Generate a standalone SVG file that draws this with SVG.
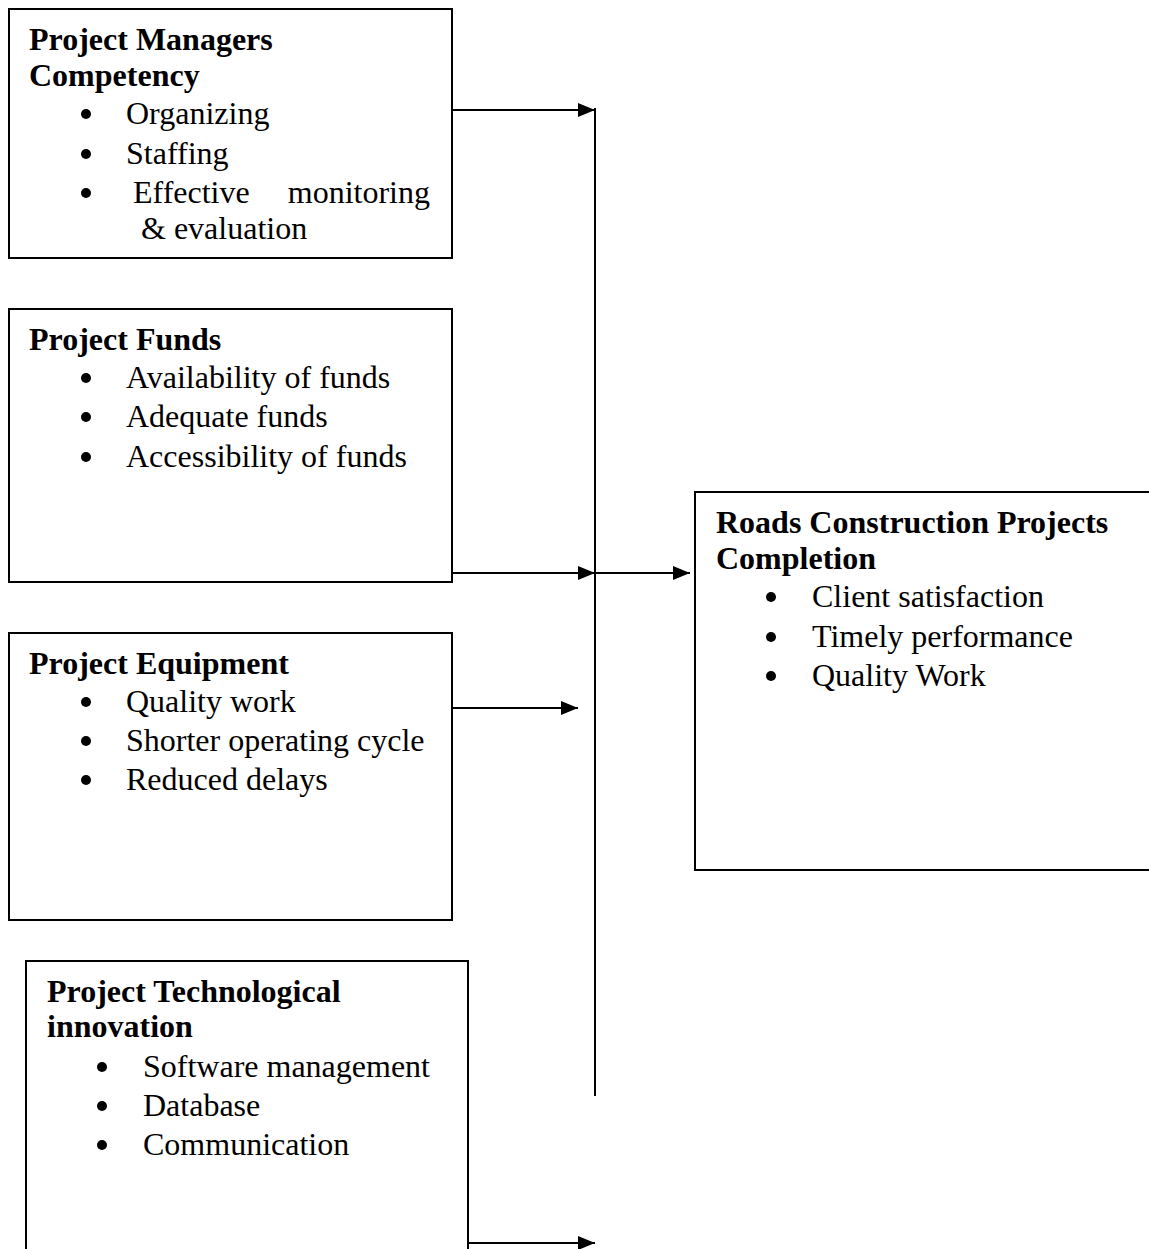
<svg xmlns="http://www.w3.org/2000/svg" width="1149" height="1249" viewBox="0 0 1149 1249">
<style>
.box{fill:#fff;stroke:#000;stroke-width:2}
.t{font-family:"Liberation Serif","Times New Roman",serif;font-size:32px;fill:#000}
.b{font-weight:bold}
.con{stroke:#000;stroke-width:2;fill:none}
.dot{fill:#000}
</style>
<defs>
<marker id="ah" markerWidth="17" markerHeight="14" refX="17" refY="7" orient="auto" markerUnits="userSpaceOnUse">
<path d="M0,0 L17,7 L0,14 Z" fill="#000"/>
</marker>
</defs>
<rect width="1149" height="1249" fill="#fff"/>
<g id="connectors">
<line class="con" x1="595" y1="108" x2="595" y2="1096"/>
<line class="con" x1="452" y1="110" x2="595" y2="110" marker-end="url(#ah)"/>
<line class="con" x1="452" y1="573" x2="595" y2="573" marker-end="url(#ah)"/>
<line class="con" x1="595" y1="573" x2="690" y2="573" marker-end="url(#ah)"/>
<line class="con" x1="452" y1="708" x2="578" y2="708" marker-end="url(#ah)"/>
<line class="con" x1="468" y1="1243" x2="595" y2="1243" marker-end="url(#ah)"/>
</g>
<g id="node-competency">
<rect class="box" x="9" y="9" width="443" height="249"/>
<text class="t b" x="29" y="50">Project Managers</text>
<text class="t b" x="29" y="86">Competency</text>
<circle class="dot" cx="86" cy="114" r="5"/>
<text class="t" x="126" y="124">Organizing</text>
<circle class="dot" cx="86" cy="154" r="5"/>
<text class="t" x="126" y="164">Staffing</text>
<circle class="dot" cx="86" cy="193" r="5"/>
<text class="t" x="133" y="203">Effective</text>
<text class="t" x="430" y="203" text-anchor="end">monitoring</text>
<text class="t" x="141" y="239">&amp; evaluation</text>
</g>
<g id="node-funds">
<rect class="box" x="9" y="309" width="443" height="273"/>
<text class="t b" x="29" y="350">Project Funds</text>
<circle class="dot" cx="86" cy="378" r="5"/>
<text class="t" x="126" y="388">Availability of funds</text>
<circle class="dot" cx="86" cy="417" r="5"/>
<text class="t" x="126" y="427">Adequate funds</text>
<circle class="dot" cx="86" cy="457" r="5"/>
<text class="t" x="126" y="467">Accessibility of funds</text>
</g>
<g id="node-equipment">
<rect class="box" x="9" y="633" width="443" height="287"/>
<text class="t b" x="29" y="674">Project Equipment</text>
<circle class="dot" cx="86" cy="702" r="5"/>
<text class="t" x="126" y="712">Quality work</text>
<circle class="dot" cx="86" cy="741" r="5"/>
<text class="t" x="126" y="751">Shorter operating cycle</text>
<circle class="dot" cx="86" cy="780" r="5"/>
<text class="t" x="126" y="790">Reduced delays</text>
</g>
<g id="node-technology">
<rect class="box" x="26" y="961" width="442" height="300"/>
<text class="t b" x="47" y="1002">Project Technological</text>
<text class="t b" x="47" y="1037">innovation</text>
<circle class="dot" cx="102" cy="1067" r="5"/>
<text class="t" x="143" y="1077">Software management</text>
<circle class="dot" cx="102" cy="1106" r="5"/>
<text class="t" x="143" y="1116">Database</text>
<circle class="dot" cx="102" cy="1145" r="5"/>
<text class="t" x="143" y="1155">Communication</text>
</g>
<g id="node-completion">
<rect class="box" x="695" y="492" width="460" height="378"/>
<text class="t b" x="716" y="533">Roads Construction Projects</text>
<text class="t b" x="716" y="569">Completion</text>
<circle class="dot" cx="771" cy="597" r="5"/>
<text class="t" x="812" y="607">Client satisfaction</text>
<circle class="dot" cx="771" cy="637" r="5"/>
<text class="t" x="812" y="647">Timely performance</text>
<circle class="dot" cx="771" cy="676" r="5"/>
<text class="t" x="812" y="686">Quality Work</text>
</g>
</svg>
